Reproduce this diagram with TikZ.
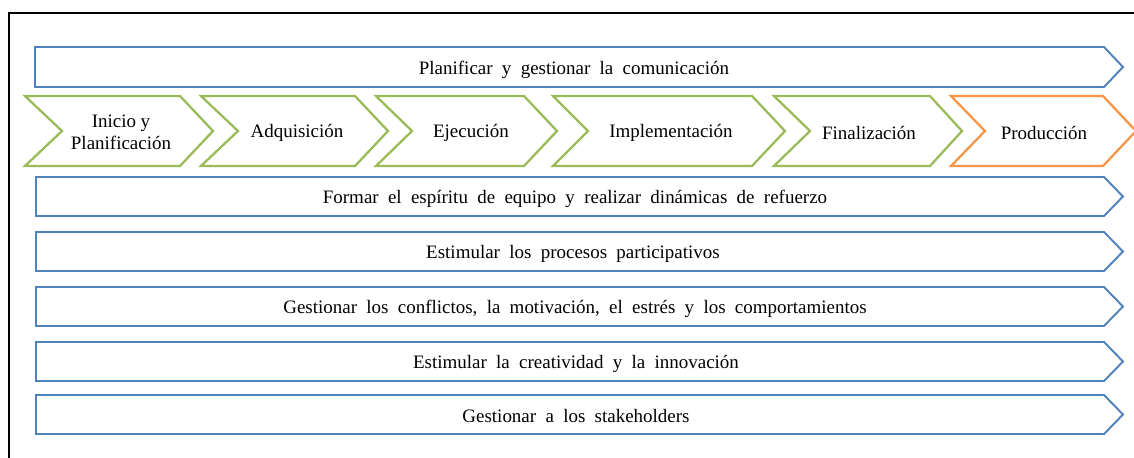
\documentclass[tikz,border=0pt]{standalone}
\usepackage{fontspec}
\setmainfont{Liberation Serif}
\definecolor{barblue}{RGB}{79,129,189}
\definecolor{phasegreen}{RGB}{155,187,89}
\definecolor{phaseorange}{RGB}{247,150,70}
\newcommand{\widespaces}{\spaceskip=5.3pt plus 1pt\relax}
\begin{document}
\begin{tikzpicture}[x=0.02cm,y=-0.02cm,
    bar/.style={draw=barblue, line width=1.1pt, line join=miter},
    phase/.style={draw=phasegreen, line width=1.3pt, line join=miter},
    lastphase/.style={draw=phaseorange, line width=1.3pt, line join=miter},
    lbl/.style={font=\fontsize{10.8}{12.5}\selectfont, align=center, inner sep=0pt},
    barlbl/.style={lbl, execute at begin node=\widespaces}]
    \useasboundingbox (0,0) rectangle (1134,457);
    %frame
    \draw[line width=1.7pt] (1140,13) -- (9,13) -- (9,465);

    %communication bar
    \draw[bar] (35,47) -- (1104,47) -- (1123,67) -- (1104,87) -- (35,87) -- cycle;
    \node[barlbl] (com) at (574,69.5) {Planificar y gestionar la comunicación};

    %phases
    \draw[phase] (25,96) -- (180,96) -- (213,131) -- (180,166) -- (25,166) -- (62,131) -- cycle;
    \draw[phase] (201,96) -- (355,96) -- (388,131) -- (355,166) -- (201,166) -- (238,131) -- cycle;
    \draw[phase] (376,96) -- (524,96) -- (557,131) -- (524,166) -- (376,166) -- (412,131) -- cycle;
    \draw[phase] (553,96) -- (752,96) -- (785,131) -- (752,166) -- (553,166) -- (588,131) -- cycle;
    \draw[phase] (774,96) -- (930,96) -- (962,131) -- (930,166) -- (774,166) -- (810,131) -- cycle;
    \draw[lastphase] (951,96) -- (1103,96) -- (1136,131) -- (1103,166) -- (951,166) -- (985,131) -- cycle;
    \node[lbl] (inicio) at (121,132) {Inicio y\\Planificación};
    \node[lbl] (adq) at (297,133) {Adquisición};
    \node[lbl] (ejec) at (471,133) {Ejecución};
    \node[lbl] (impl) at (671,133) {Implementación};
    \node[lbl] (fin) at (869,133) {Finalización};
    \node[lbl] (prod) at (1044,133) {Producción};

    %team bars
    \draw[bar] (36,177) -- (1104,177) -- (1123,196.5) -- (1104,216) -- (36,216) -- cycle;
    \node[barlbl] (equipo) at (575,198.5) {Formar el espíritu de equipo y realizar dinámicas de refuerzo};
    \draw[bar] (36,232) -- (1104,232) -- (1123,251.5) -- (1104,271) -- (36,271) -- cycle;
    \node[barlbl] (partic) at (573,253.5) {Estimular los procesos participativos};
    \draw[bar] (36,287) -- (1104,287) -- (1123,306.5) -- (1104,326) -- (36,326) -- cycle;
    \node[barlbl] (confl) at (575,308.5) {Gestionar los conflictos, la motivación, el estrés y los comportamientos};
    \draw[bar] (36,342) -- (1104,342) -- (1123,361.5) -- (1104,381) -- (36,381) -- cycle;
    \node[barlbl] (creat) at (576,363.5) {Estimular la creatividad y la innovación};
    \draw[bar] (36,395) -- (1104,395) -- (1123,414.5) -- (1104,434) -- (36,434) -- cycle;
    \node[barlbl] (stake) at (576,416.5) {Gestionar a los stakeholders};
\end{tikzpicture}
\end{document}
